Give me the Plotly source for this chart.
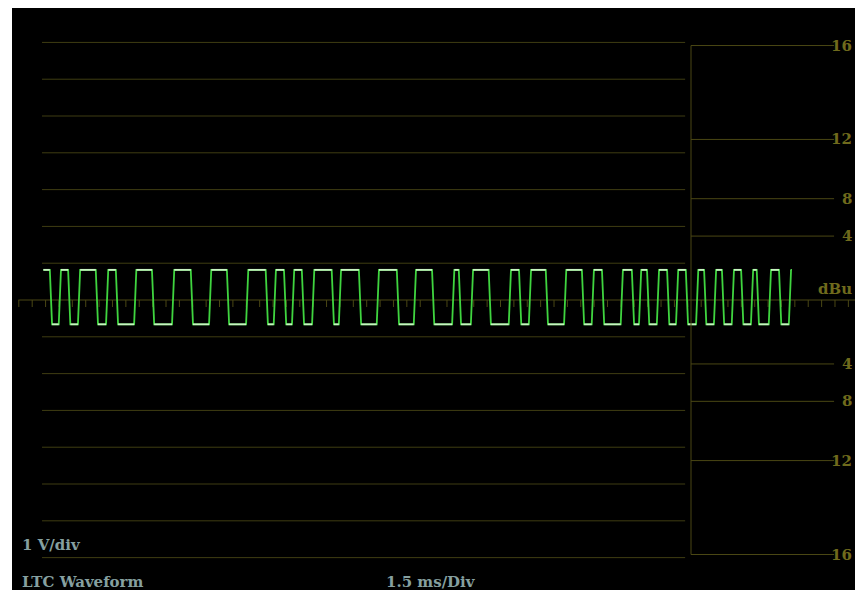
"""
LTC waveform screen (waveform monitor style)
"""

import numpy as np
import plotly.graph_objects as go

# Trace levels (V) and edge times (ms)
HIGH_LEVEL = 0.82
LOW_LEVEL = -0.66
START_TIME = 0.03
END_TIME = 16.79
EDGE_TIMES = [0.20, 0.40, 0.61, 0.83, 1.23, 1.46, 1.68, 2.09, 2.49, 2.94,
              3.36, 3.77, 4.17, 4.60, 5.04, 5.22, 5.45, 5.63, 5.85, 6.08,
              6.52, 6.68, 7.13, 7.53, 7.98, 8.36, 8.77, 9.22, 9.37, 9.64,
              10.04, 10.49, 10.72, 10.94, 11.32, 11.73, 12.13, 12.35, 12.58,
              13.00, 13.25, 13.41, 13.59, 13.81, 14.04, 14.24, 14.46, 14.69,
              14.87, 15.09, 15.27, 15.49, 15.70, 15.92, 16.05, 16.32, 16.55,
              16.77]

# Graticule: 1 V/div, 1.5 ms/div
VOLT_LINES = [-7, -6, -5, -4, -3, -2, -1, 1, 2, 3, 4, 5, 6, 7]
GRID_X = [0.0, 14.42]
DBU_MARKS = [4, 8, 12, 16]
DBU_LABELS = ['4', '8', '12', '16']

LABEL_VDIV = '1 V/div'
LABEL_TITLE = 'LTC Waveform'
LABEL_TDIV = '1.5 ms/Div'

X_RANGE = [-0.673, 18.408]
Y_RANGE = [-7.880, 7.935]

GRID_COLOR = '#3f3d12'
PANEL_COLOR = '#4a4714'
LABEL_COLOR = '#6f6a1c'
TEXT_COLOR = '#86a0a0'


def dbu_to_peak(db):
    """Peak volts of a sine at the given dBu level"""
    return 0.775 * 10 ** (db / 20) * np.sqrt(2)


def build_wave(edges, start, end, high, low, rise=0.05):
    """Square wave path plus its flat parts"""
    xs, ys = [start], [high]
    fx, fy = [start], [high]
    level = high
    for t in edges:
        new = low if level == high else high
        xs += [t - rise / 2, t + rise / 2]
        ys += [level, new]
        fx += [t - rise / 2, None, t + rise / 2]
        fy += [level, None, new]
        level = new
    xs.append(end)
    ys.append(level)
    fx.append(end)
    fy.append(level)
    return xs, ys, fx, fy


fig = go.Figure()

# Horizontal graticule
gx, gy = [], []
for v in VOLT_LINES:
    gx += [GRID_X[0], GRID_X[1], None]
    gy += [v, v, None]
fig.add_trace(go.Scatter(x=gx, y=gy, mode='lines',
                         line=dict(color=GRID_COLOR, width=1),
                         hoverinfo='skip'))

# Centre axis with ticks every 0.3 ms
fig.add_trace(go.Scatter(x=[-0.53, X_RANGE[1]], y=[0, 0], mode='lines',
                         line=dict(color=PANEL_COLOR, width=1),
                         hoverinfo='skip'))
tx, ty = [], []
for t in np.arange(-0.52, X_RANGE[1], 0.3):
    tx += [t, t, None]
    ty += [0, -0.19, None]
fig.add_trace(go.Scatter(x=tx, y=ty, mode='lines',
                         line=dict(color=PANEL_COLOR, width=1),
                         hoverinfo='skip'))

# dBu scale panel
x0, x1 = 0.7979, 0.9660
top = dbu_to_peak(DBU_MARKS[-1])
fig.add_shape(type='line', xref='paper', yref='y', x0=x0, x1=x0,
              y0=-top, y1=top, line=dict(color=PANEL_COLOR, width=1))
for db, lab in zip(DBU_MARKS, DBU_LABELS):
    v = dbu_to_peak(db)
    for s in (1, -1):
        fig.add_shape(type='line', xref='paper', yref='y', x0=x0, x1=x1,
                      y0=s * v, y1=s * v,
                      line=dict(color=PANEL_COLOR, width=1))
        fig.add_annotation(x=0.9895, y=s * v, xref='paper', yref='y',
                           text=lab, showarrow=False, xanchor='right',
                           font=dict(family='DejaVu Serif', size=15,
                                     color=LABEL_COLOR, weight='bold'))
fig.add_annotation(x=0.9895, y=0.3, xref='paper', yref='y', text='dBu',
                   showarrow=False, xanchor='right',
                   font=dict(family='DejaVu Serif', size=15,
                             color=LABEL_COLOR, weight='bold'))

# Waveform
wx, wy, fx, fy = build_wave(EDGE_TIMES, START_TIME, END_TIME,
                            HIGH_LEVEL, LOW_LEVEL)
fig.add_trace(go.Scatter(x=wx, y=wy, mode='lines',
                         line=dict(color='#3fd43f', width=1.8),
                         hoverinfo='skip'))
fig.add_trace(go.Scatter(x=fx, y=fy, mode='lines',
                         line=dict(color='#c9f2c2', width=1.8),
                         hoverinfo='skip'))

# Screen readouts
for txt, px, py in [(LABEL_VDIV, 0.0094, 0.0773),
                    (LABEL_TITLE, 0.0094, 0.0137),
                    (LABEL_TDIV, 0.4370, 0.0137)]:
    fig.add_annotation(x=px, y=py, xref='paper', yref='paper', text=txt,
                       showarrow=False, xanchor='left', yanchor='middle',
                       font=dict(family='DejaVu Serif', size=15,
                                 color=TEXT_COLOR, weight='bold'))

fig.update_layout(
    width=855,
    height=582,
    margin=dict(l=4, r=0, t=0, b=0),
    paper_bgcolor='white',
    plot_bgcolor='black',
    showlegend=False,
    xaxis=dict(visible=False, range=X_RANGE, fixedrange=True),
    yaxis=dict(visible=False, range=Y_RANGE, fixedrange=True),
)

fig.write_html("out.html")
